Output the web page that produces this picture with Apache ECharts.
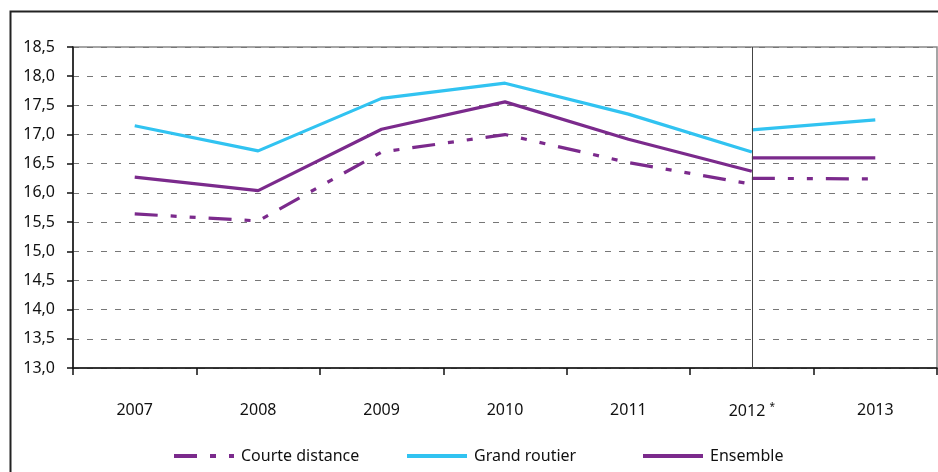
<!DOCTYPE html>
<html>
<head>
<meta charset="utf-8">
<script src="https://cdn.jsdelivr.net/npm/echarts@6/dist/echarts.min.js"></script>
<style>
  html, body { margin: 0; padding: 0; background: #fff; }
  #chart { width: 938px; height: 472px; }
</style>
</head>
<body>
<div id="chart"></div>
<script>
// ---- Data ----
var categories = ['2007', '2008', '2009', '2010', '2011', '2012 *', '2013'];
var courteDistance  = [15.64, 15.52, 16.70, 17.00, 16.52, 16.15, null];
var courteDistance2 = [null, null, null, null, null, 16.25, 16.24];
var grandRoutier    = [17.15, 16.72, 17.62, 17.88, 17.35, 16.70, null];
var grandRoutier2   = [null, null, null, null, null, 17.08, 17.25];
var ensemble        = [16.27, 16.04, 17.09, 17.56, 16.92, 16.37, null];
var ensemble2       = [null, null, null, null, null, 16.60, 16.60];
var yTicks = { min: 13, max: 18.5, interval: 0.5 };

var PURPLE = '#7B2A8C';
var CYAN = '#31C3F1';
var FONT = 'Noto Sans';
var courteDash = [23, 13, 6, 13, 6, 13];

var chart = echarts.init(document.getElementById('chart'));

function lineSeries(name, data, color, dash, extra) {
  var s = {
    name: name,
    type: 'line',
    data: data,
    symbol: 'none',
    showSymbol: false,
    connectNulls: false,
    lineStyle: { color: color, width: 3.2, type: dash || 'solid' },
    itemStyle: { color: color },
    emphasis: { disabled: true },
    silent: true,
    z: 3
  };
  if (extra) for (var k in extra) s[k] = extra[k];
  return s;
}

function legendAt(left, name) {
  return {
    left: left,
    top: 448,
    padding: 0,
    data: [name],
    itemWidth: 60,
    itemHeight: 14,
    itemGap: 0,
    selectedMode: false,
    itemStyle: { opacity: 0, borderWidth: 0 },
    lineStyle: { width: 4 },
    textStyle: { fontFamily: FONT, fontSize: 16, color: '#111', padding: [0, 0, 0, 2] }
  };
}

var option = {
  animation: false,
  backgroundColor: '#fff',
  graphic: [{
    type: 'rect',
    left: 8, top: 9,
    shape: { width: 1000, height: 1000 },
    style: { fill: 'none', stroke: '#222', lineWidth: 2 },
    silent: true
  }],
  legend: [
    legendAt(172, 'Courte distance'),
    legendAt(405, 'Grand routier'),
    legendAt(641, 'Ensemble')
  ],
  grid: {
    left: 73, right: 1, top: 47, bottom: 104,
    show: true, borderColor: '#888', borderWidth: 1.5, backgroundColor: 'transparent'
  },
  xAxis: {
    type: 'category',
    data: categories,
    boundaryGap: true,
    axisLine: { lineStyle: { color: '#111', width: 1.5 } },
    axisTick: { show: true, length: 7, inside: false, lineStyle: { color: '#111', width: 1.5 } },
    axisLabel: {
      margin: 34,
      fontFamily: FONT, fontSize: 16, color: '#111',
      interval: 0,
      formatter: function (v) {
        return v.indexOf('*') >= 0 ? v.replace(' *', '') + ' {s|*}' : v;
      },
      rich: { s: { fontSize: 10, fontFamily: FONT, color: '#111', padding: [0, 0, 9, 0] } }
    },
    splitLine: { show: false }
  },
  yAxis: {
    type: 'value',
    min: yTicks.min, max: yTicks.max, interval: yTicks.interval,
    axisLine: { show: true, lineStyle: { color: '#111', width: 1.5 } },
    axisTick: { show: true, length: 6, lineStyle: { color: '#111', width: 1.5 } },
    axisLabel: {
      margin: 18,
      fontFamily: FONT, fontSize: 16, color: '#111',
      formatter: function (v) { return v.toFixed(1).replace('.', ','); }
    },
    splitLine: { show: true, lineStyle: { color: '#777', width: 1.2, type: [6, 8] } }
  },
  series: [
    lineSeries('Courte distance', courteDistance, PURPLE, courteDash, {
      markLine: {
        silent: true,
        symbol: 'none',
        label: { show: false },
        lineStyle: { color: '#444', width: 1, type: 'solid' },
        data: [{ xAxis: '2012 *' }]
      }
    }),
    lineSeries('Grand routier', grandRoutier, CYAN),
    lineSeries('Ensemble', ensemble, PURPLE),
    lineSeries('Courte distance', courteDistance2, PURPLE, courteDash),
    lineSeries('Grand routier', grandRoutier2, CYAN),
    lineSeries('Ensemble', ensemble2, PURPLE)
  ]
};

chart.setOption(option);
</script>
</body>
</html>
